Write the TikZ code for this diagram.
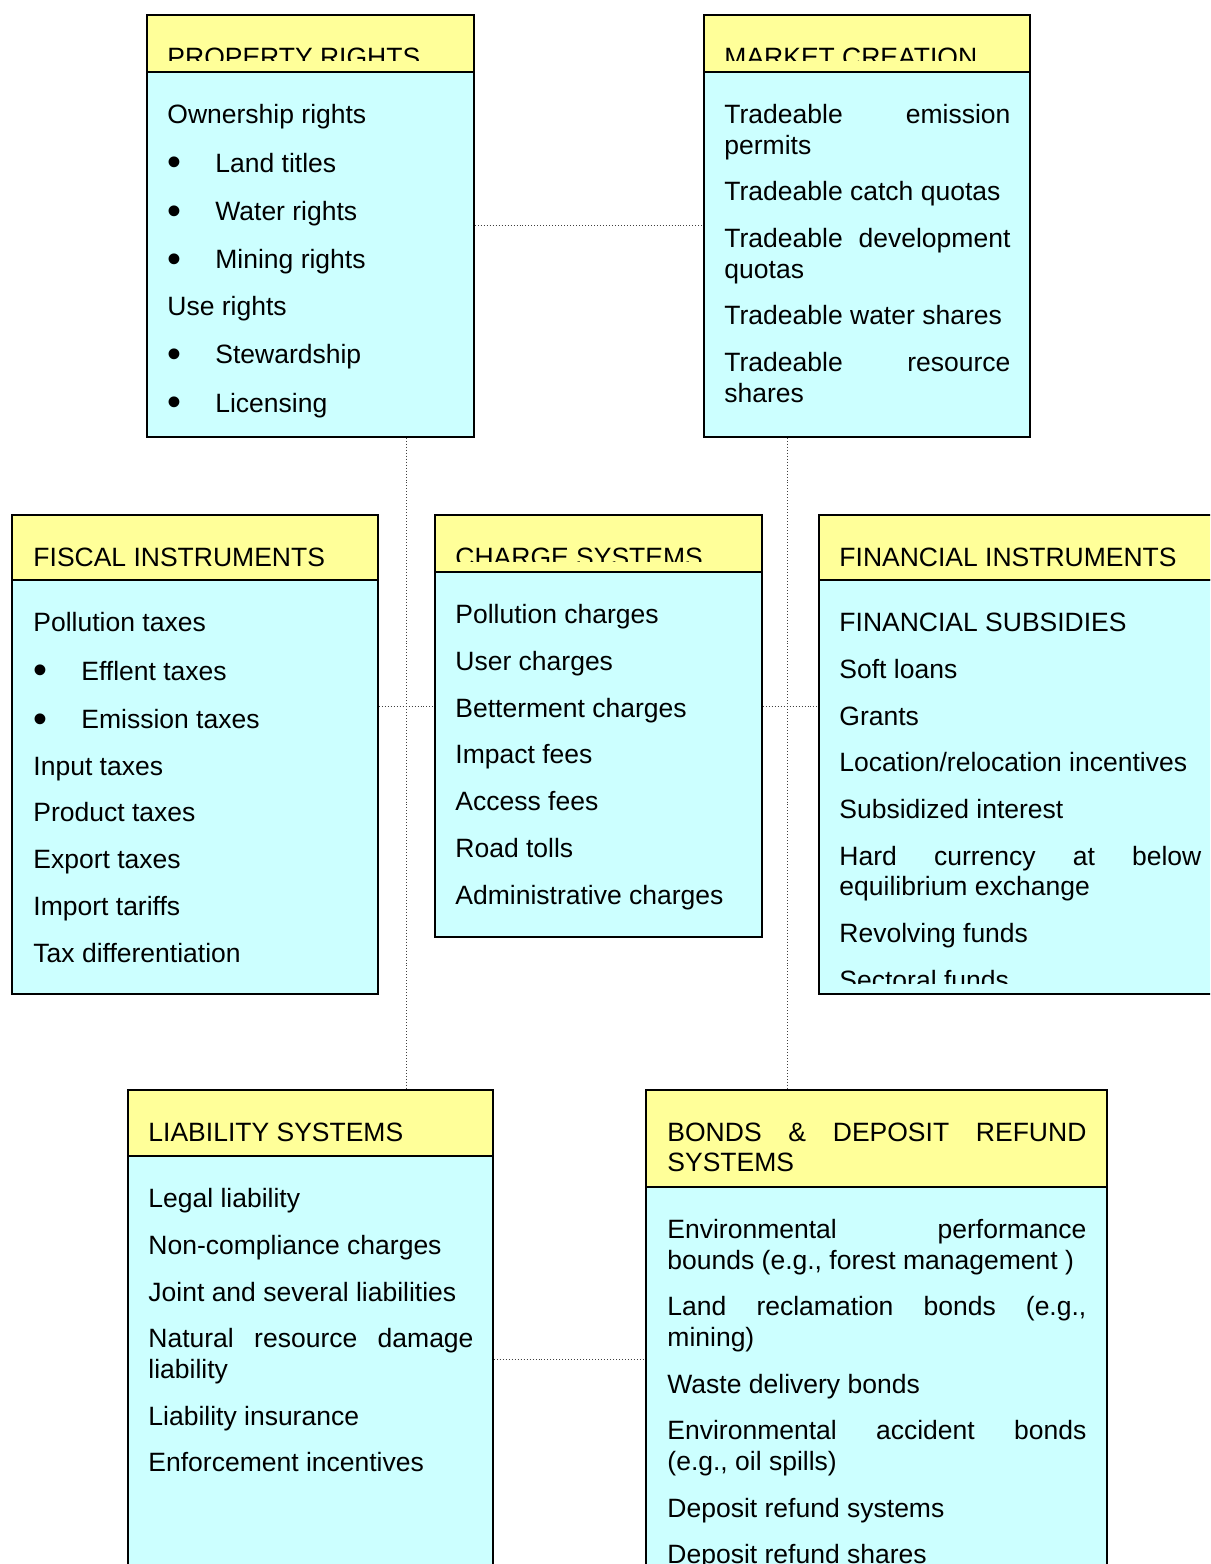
\documentclass[tikz,border=0pt]{standalone}
\usepackage{fontspec}
\setmainfont[Ligatures={NoCommon}]{Liberation Sans}
\usetikzlibrary{fit}
\definecolor{hdryellow}{HTML}{FFFF99}
\definecolor{bdycyan}{HTML}{CCFFFF}
\newcommand{\bulletitem}{\vspace{0.75pt}\makebox[21.7pt][l]{\raisebox{-1.6pt}{\scalebox{1.5}{\textbullet}}}}

\begin{document}
\begin{tikzpicture}[x=0.4528pt, y=-0.4528pt,
    hdr/.style={draw, line width=0.7pt, fill=hdryellow, inner sep=0pt},
    bdy/.style={draw, line width=0.7pt, fill=bdycyan, inner sep=0pt},
    txt/.style={anchor=north west, inner sep=0pt, text width=#1, align=justify,
        font=\fontsize{12pt}{13.8pt}\selectfont,
        execute at begin node={\setlength{\parindent}{0pt}\setlength{\parskip}{7.35pt}\hyphenpenalty=10000\leavevmode\strut}},
    link/.style={draw=black!75, line width=0.45pt, dash pattern=on 0.45pt off 0.9pt}]
\useasboundingbox (0,0) rectangle (1210,1564);
\clip (0,0) rectangle (1210,1564);

% boxes
\node[hdr, fit={(147,15) (474,72)}] (prophead) {};
\node[bdy, fit={(147,72) (474,437)}] (prop) {};
\node[hdr, fit={(704,15) (1030,72)}] (mkthead) {};
\node[bdy, fit={(704,72) (1030,437)}] (mkt) {};
\node[hdr, fit={(12,515) (378,580)}] (fischead) {};
\node[bdy, fit={(12,580) (378,994)}] (fisc) {};
\node[hdr, fit={(435,515) (762,572)}] (chrghead) {};
\node[bdy, fit={(435,572) (762,937)}] (chrg) {};
\node[hdr, fit={(819,515) (1222,580)}] (finhead) {};
\node[bdy, fit={(819,580) (1222,994)}] (fin) {};
\node[hdr, fit={(128,1090) (493,1156)}] (liabhead) {};
\node[bdy, fit={(128,1156) (493,1600)}] (liab) {};
\node[hdr, fit={(646,1090) (1107,1187)}] (bondhead) {};
\node[bdy, fit={(646,1187) (1107,1600)}] (bond) {};

% dotted links
\coordinate (toprow) at (0,225);
\coordinate (midrow) at (0,706);
\coordinate (lowrow) at (0,1359);
\coordinate (leftbus) at (406,0);
\coordinate (rightbus) at (787,0);
\draw[link] (prop.east |- toprow) -- (mkt.west |- toprow);
\draw[link] (leftbus |- prop.south) -- (leftbus |- liabhead.north);
\draw[link] (rightbus |- mkt.south) -- (rightbus |- bondhead.north);
\draw[link] (fisc.east |- midrow) -- (chrg.west |- midrow);
\draw[link] (chrg.east |- midrow) -- (fin.west |- midrow);
\draw[link] (liab.east |- lowrow) -- (bond.west |- lowrow);

% titles
\begin{scope}
\clip (147,15) rectangle (474,61);
\node[txt=130pt] (proptitle) at (167,44.7) {PROPERTY RIGHTS};
\end{scope}
\begin{scope}
\clip (704,15) rectangle (1030,61);
\node[txt=129.5pt] (mkttitle) at (724,44.7) {MARKET CREATION};
\end{scope}
\begin{scope}
\clip (435,515) rectangle (762,561);
\node[txt=130pt] (chrgtitle) at (455,544.7) {CHARGE SYSTEMS};
\end{scope}
\node[txt=147.2pt] (fisctitle) at (33,544.7) {FISCAL INSTRUMENTS};
\node[txt=163.9pt] (fintitle) at (839,544.7) {FINANCIAL INSTRUMENTS};
\node[txt=147.2pt] (liabtitle) at (148,1119.7) {LIABILITY SYSTEMS};
\node[txt=189.7pt] (bondtitle) at (667,1119.7) {BONDS \& DEPOSIT REFUND\linebreak SYSTEMS};

% contents
\node[txt=130pt] (proptext) at (167,102) {Ownership rights\par
\bulletitem Land titles\par
\bulletitem Water rights\par
\bulletitem Mining rights\par
Use rights\par
\bulletitem Stewardship\par
\bulletitem Licensing};
\node[txt=129.5pt] (mkttext) at (724,102) {Tradeable emission\linebreak permits\par
Tradeable catch quotas\par
Tradeable development\linebreak quotas\par
Tradeable water shares\par
Tradeable resource\linebreak shares};
\node[txt=147.2pt] (fisctext) at (33,610) {Pollution taxes\par
\bulletitem Efflent taxes\par
\bulletitem Emission taxes\par
Input taxes\par
Product taxes\par
Export taxes\par
Import tariffs\par
Tax differentiation};
\node[txt=130pt] (chrgtext) at (455,602) {Pollution charges\par
User charges\par
Betterment charges\par
Impact fees\par
Access fees\par
Road tolls\par
Administrative charges};
\begin{scope}
\clip (819,580) rectangle (1222,983);
\node[txt=163.9pt] (fintext) at (839,610) {FINANCIAL SUBSIDIES\par
Soft loans\par
Grants\par
Location/relocation incentives\par
Subsidized interest\par
Hard currency at below\linebreak equilibrium exchange\par
Revolving funds\par
Sectoral funds};
\end{scope}
\node[txt=147.2pt] (liabtext) at (148,1186) {Legal liability\par
Non-compliance charges\par
Joint and several liabilities\par
Natural resource damage\linebreak liability\par
Liability insurance\par
Enforcement incentives};
\node[txt=189.7pt] (bondtext) at (667,1217) {Environmental performance\linebreak bounds (e.g., forest management )\par
Land reclamation bonds (e.g.,\linebreak mining)\par
Waste delivery bonds\par
Environmental accident bonds\linebreak (e.g., oil spills)\par
Deposit refund systems\par
Deposit refund shares};

\end{tikzpicture}
\end{document}
